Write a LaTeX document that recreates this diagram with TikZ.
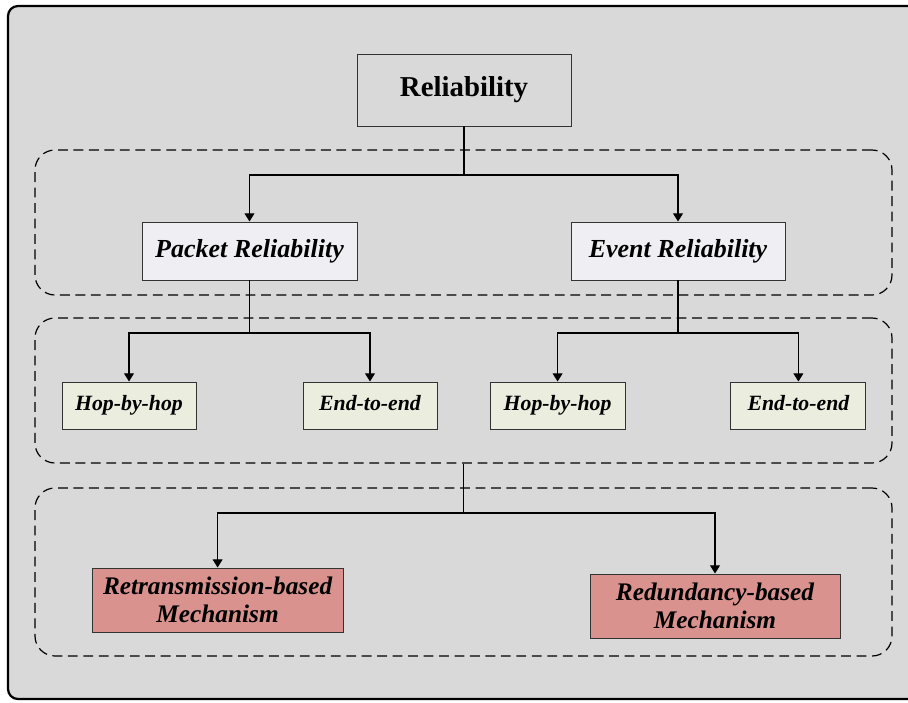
\documentclass[tikz,border=0pt]{standalone}
\usepackage{fontspec}
\setmainfont{Liberation Serif}
\usetikzlibrary{arrows.meta, positioning, calc}
\definecolor{bgcolor}{RGB}{217,217,217}
\definecolor{pktcolor}{RGB}{239,238,243}
\definecolor{hopcolor}{RGB}{235,238,223}
\definecolor{mechcolor}{RGB}{217,146,142}

\begin{document}
\begin{tikzpicture}[
    block/.style={draw=black!80, line width=0.7pt, align=center, inner sep=2pt},
    hopbox/.style={block, fill=hopcolor, minimum height=1.175cm, text height=0.85em, text depth=0.1em, font=\fontsize{15.5}{18}\selectfont\bfseries\itshape},
    group/.style={draw=black, dash pattern=on 7pt off 4pt, line width=0.85pt, rounded corners=0.5cm, minimum width=21.425cm},
    link/.style={-{Triangle[length=5.8pt,width=7pt]}, line width=0.85pt},
    >=Stealth
]
  \useasboundingbox (0,0) rectangle (22.7,-17.55);
  \clip (0,0) rectangle (22.7,-17.55);
  % Frame
  \draw[line width=1.6pt, fill=bgcolor, rounded corners=0.25cm] (0.2,-0.15) rectangle (23.2,-17.475);

  % Groups
  \node[group, minimum height=3.625cm] (L1) at (11.5875,-5.5625) {};
  \node[group, minimum height=3.625cm] (L2) at (11.5875,-9.7625) {};
  \node[group, minimum height=4.2cm] (L3) at (11.5875,-14.3) {};

  % Top
  \node[block, minimum width=5.35cm, minimum height=1.8cm, font=\fontsize{20.5}{24}\selectfont\bfseries] (REL) at (11.6,-2.25) {Reliability};

  % Packet / event
  \node[block, fill=pktcolor, minimum width=5.375cm, minimum height=1.45cm, font=\fontsize{18.5}{22}\selectfont\bfseries\itshape] (PKT) at (6.2375,-6.275) {Packet Reliability};
  \node[block, fill=pktcolor, minimum width=5.35cm, minimum height=1.45cm, font=\fontsize{18.5}{22}\selectfont\bfseries\itshape] (EVT) at (16.95,-6.275) {Event Reliability};

  \coordinate (br1) at (11.6,-4.375);
  \draw[link] (REL.south) -- (br1) -| (PKT.north);
  \draw[link] (br1) -| (EVT.north);

  % Hop-by-hop / end-to-end
  \node[hopbox, minimum width=3.35cm] (PHOP) at (3.225,-10.1375) {Hop-by-hop};
  \node[hopbox, minimum width=3.35cm] (PEND) at (9.25,-10.1375) {End-to-end};
  \node[hopbox, minimum width=3.375cm] (EHOP) at (13.94,-10.1375) {Hop-by-hop};
  \node[hopbox, minimum width=3.375cm] (EEND) at (19.96,-10.1375) {End-to-end};

  \coordinate (br2) at (6.2375,-8.325);
  \coordinate (br3) at (16.95,-8.325);
  \draw[link] (PKT.south) -- (br2) -| (PHOP.north);
  \draw[link] (br2) -| (PEND.north);
  \draw[link] (EVT.south) -- (br3) -| (EHOP.north);
  \draw[link] (br3) -| (EEND.north);

  % Mechanisms
  \node[block, fill=mechcolor, minimum width=6.275cm, minimum height=1.6cm, font=\fontsize{18}{20}\selectfont\bfseries\itshape] (RETX) at (5.44,-15.0) {Retransmission-based\\Mechanism};
  \node[block, fill=mechcolor, minimum width=6.25cm, minimum height=1.6cm, font=\fontsize{18}{20}\selectfont\bfseries\itshape] (REDN) at (17.875,-15.15) {Redundancy-based\\Mechanism};

  \coordinate (br4) at (11.5875,-12.825);
  \draw[link] (L2.south) -- (br4) -| (RETX.north);
  \draw[link] (br4) -| (REDN.north);
\end{tikzpicture}
\end{document}
